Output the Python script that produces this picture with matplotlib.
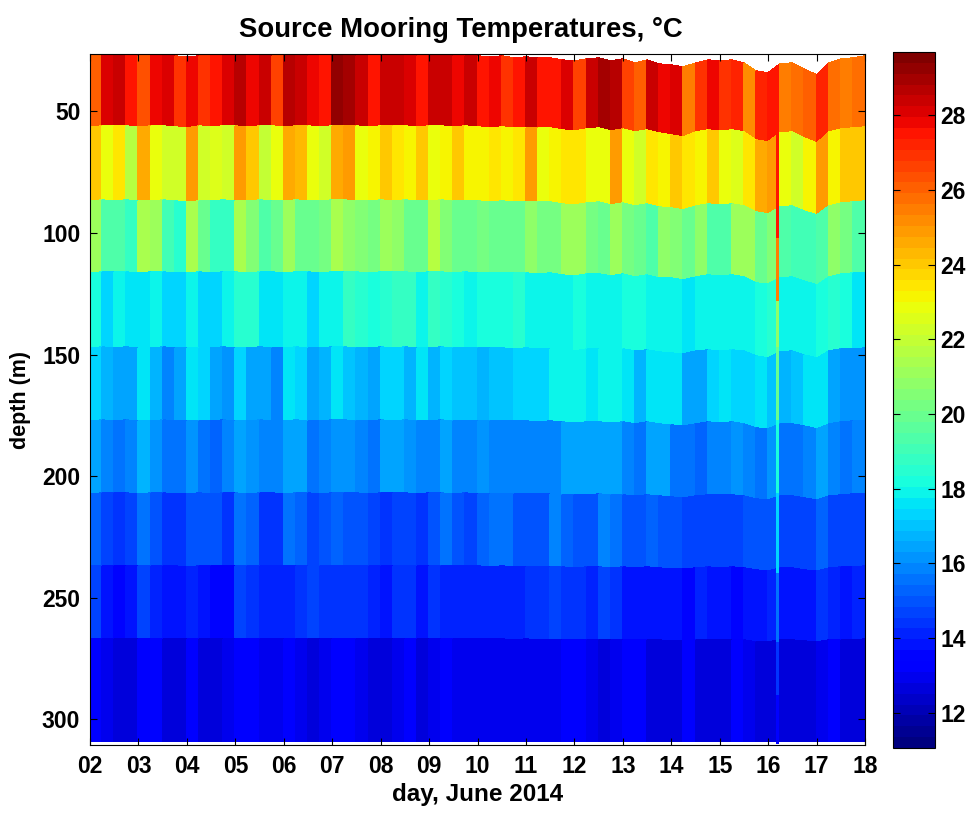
import numpy as np
import matplotlib
matplotlib.use("Agg")
import matplotlib.pyplot as plt

plt.rcParams['font.family'] = ['Liberation Sans', 'DejaVu Sans']
plt.rcParams['font.weight'] = 'bold'

# time grid: quarter-day columns, 2 - 18 June 2014
t_start = 2.0
t_step = 0.25
n_cols = 64

# nominal sensor cell edges (m)
depth_edges = [27, 56, 86.5, 116, 147, 177, 207, 237, 267, 309]

# mooring knock-down at each time edge (m), read from the wavy top edge
drawdown = [0.5, 0, 0.3, 0, 0.5, 0.3, 0, 0.5, 0.8, 0.3, 0.5, 0, 0.3, 0.5, 0, 0.3,
            0.5, 0, 0.3, 0.5, 0, 0, 0.3, 0.5, 0, 0.3, 0, 0.5, 0.3, 0, 0.5, 0.3,
            0.5, 0.8, 0.5, 1.0, 0.8, 1.2, 1.0, 2.0, 2.5, 1.5, 1.2, 2.5, 1.5, 3.0, 2.0, 3.5,
            4.0, 5.0, 3.0, 2.0, 2.5, 2.0, 3.0, 6.5, 7.5, 3.5, 3.0, 5.5, 8.0, 3.0, 1.5, 1.0,
            0.5]

# temperatures (deg C) per sensor, one value per quarter day
temp_s1 = [26.0, 28.0, 28.5, 27.5, 26.3, 27.8, 28.2, 26.8, 27.8, 26.8, 27.5, 28.0, 28.6, 27.8, 28.5, 26.5,
           28.7, 28.5, 27.8, 27.5, 29.2, 29.0, 28.5, 27.5, 28.5, 28.5, 28.2, 27.6, 28.5, 28.5, 27.8, 28.3,
           27.5, 27.8, 27.0, 27.5, 28.3, 27.5, 27.6, 28.2, 26.5, 28.3, 29.0, 28.8, 26.5, 26.0, 28.3, 27.8,
           28.0, 25.5, 26.8, 27.8, 27.0, 27.3, 25.3, 27.3, 27.5, 25.5, 25.8, 26.0, 27.3, 25.8, 25.5, 25.8]
temp_s2 = [24.0, 22.8, 23.5, 21.8, 24.5, 22.8, 22.4, 22.2, 25.0, 22.2, 22.6, 22.4, 24.8, 24.0, 22.0, 22.8,
           24.5, 24.2, 22.8, 22.2, 24.5, 25.0, 22.8, 23.0, 24.0, 23.5, 23.0, 24.0, 22.8, 23.0, 24.0, 23.0,
           23.0, 23.5, 23.2, 23.3, 24.8, 22.9, 23.0, 23.5, 23.5, 22.8, 22.8, 25.0, 22.8, 22.4, 23.5, 23.0,
           24.0, 23.3, 23.0, 24.0, 22.8, 22.6, 23.5, 24.5, 25.0, 22.8, 22.4, 23.0, 24.8, 23.0, 24.0, 24.0]
temp_s3 = [21.0, 19.5, 19.3, 18.8, 21.5, 21.0, 19.0, 18.5, 21.5, 19.8, 18.8, 18.8, 21.5, 20.5, 19.5, 19.8,
           21.0, 20.0, 20.0, 20.2, 21.3, 20.8, 20.5, 20.3, 21.0, 20.8, 20.0, 19.8, 21.8, 20.5, 20.0, 20.0,
           20.2, 19.8, 19.8, 20.0, 20.8, 20.2, 20.3, 21.0, 21.0, 20.2, 20.0, 21.0, 20.3, 20.0, 19.3, 20.8,
           20.5, 19.8, 20.8, 19.5, 19.3, 21.0, 21.0, 19.8, 20.5, 19.5, 19.0, 19.0, 19.5, 20.8, 20.3, 19.3]
temp_s4 = [18.2, 17.3, 17.8, 17.5, 17.6, 18.0, 17.2, 17.3, 18.0, 17.2, 17.3, 18.0, 18.5, 18.5, 17.5, 17.5,
           18.0, 18.0, 17.3, 18.0, 18.0, 18.7, 18.5, 18.3, 18.4, 18.7, 18.7, 18.0, 18.8, 18.5, 18.2, 18.0,
           18.3, 18.3, 18.3, 18.5, 18.0, 18.0, 18.0, 18.0, 18.2, 18.0, 18.0, 17.8, 18.3, 18.3, 17.8, 17.8,
           17.8, 17.5, 17.8, 18.0, 18.0, 18.0, 17.8, 18.2, 18.5, 18.0, 18.0, 17.8, 18.3, 18.5, 18.3, 17.5]
temp_s5 = [17.3, 16.8, 16.5, 16.5, 17.5, 16.6, 16.0, 16.3, 17.5, 17.3, 16.3, 16.2, 17.3, 16.5, 16.5, 16.0,
           17.5, 17.3, 16.5, 16.8, 17.5, 17.0, 16.8, 16.5, 17.3, 17.3, 16.6, 17.5, 16.6, 17.3, 17.0, 17.0,
           16.6, 17.0, 17.0, 17.3, 17.3, 17.3, 17.8, 17.8, 17.8, 17.5, 17.8, 17.8, 17.5, 16.8, 17.5, 17.5,
           17.5, 16.5, 16.3, 17.3, 17.5, 17.2, 17.3, 17.5, 17.0, 16.6, 17.0, 17.5, 17.6, 16.3, 16.2, 16.2]
temp_s6 = [16.3, 16.0, 15.6, 15.8, 16.6, 16.2, 15.6, 15.5, 16.2, 15.5, 15.3, 15.8, 16.3, 16.2, 15.8, 15.8,
           16.3, 16.3, 15.6, 16.0, 16.2, 16.2, 16.0, 15.5, 16.3, 16.3, 16.2, 15.8, 16.0, 16.3, 16.0, 15.8,
           16.2, 16.0, 16.0, 16.0, 16.0, 16.0, 15.8, 16.3, 16.3, 16.3, 16.3, 16.3, 16.0, 15.5, 16.3, 16.3,
           15.5, 15.5, 15.4, 15.8, 15.8, 16.2, 15.8, 15.6, 16.2, 15.5, 15.5, 15.8, 16.3, 15.8, 15.6, 15.8]
temp_s7 = [15.3, 14.6, 14.3, 14.6, 15.6, 15.0, 14.4, 14.5, 14.9, 15.0, 15.0, 14.3, 15.5, 15.2, 14.3, 14.5,
           15.5, 15.3, 14.8, 15.0, 15.3, 15.0, 15.0, 14.6, 14.3, 14.6, 14.6, 14.3, 15.0, 15.5, 14.9, 14.8,
           15.3, 15.5, 15.5, 15.0, 15.0, 15.0, 16.0, 15.3, 15.0, 15.0, 15.8, 15.5, 15.0, 15.0, 15.2, 15.0,
           15.0, 14.8, 14.6, 14.8, 14.7, 14.8, 15.0, 15.0, 15.0, 14.6, 14.6, 14.8, 15.3, 14.8, 14.7, 14.8]
temp_s8 = [14.6, 13.7, 13.6, 13.9, 14.7, 14.2, 13.7, 13.8, 14.2, 13.7, 13.6, 13.6, 14.7, 14.3, 14.1, 14.2,
           14.2, 14.3, 14.7, 14.3, 14.3, 14.3, 14.3, 14.0, 13.7, 14.4, 14.3, 13.7, 14.5, 14.2, 14.2, 14.2,
           14.2, 14.2, 14.2, 14.2, 14.3, 14.5, 14.8, 14.3, 14.3, 14.2, 14.8, 14.3, 13.8, 13.8, 13.8, 13.8,
           13.8, 13.6, 14.0, 13.7, 13.8, 13.6, 13.7, 13.8, 14.0, 13.8, 13.7, 13.8, 14.3, 14.0, 13.9, 14.0]
temp_s9 = [13.2, 13.0, 12.8, 12.7, 13.1, 13.5, 12.7, 12.8, 13.1, 12.8, 12.7, 12.9, 13.3, 13.2, 12.9, 13.0,
           13.2, 13.0, 12.7, 12.9, 13.1, 13.2, 12.9, 12.8, 12.7, 12.9, 13.1, 12.7, 12.9, 13.3, 13.0, 13.0,
           13.0, 12.9, 12.9, 13.0, 12.9, 12.9, 13.0, 13.2, 13.3, 13.0, 12.8, 12.9, 13.2, 13.2, 12.8, 12.6,
           12.8, 13.2, 12.8, 12.6, 12.7, 13.2, 12.9, 12.7, 12.6, 12.8, 12.7, 12.6, 12.9, 13.3, 12.8, 12.7]

# short knock-down event near day 16.2
spike_time = [16.17, 16.23]
spike_depths = [45, 102, 128, 147, 177, 207, 240, 268, 290, 310]
spike_temps = [27.5, 25.5, 20.8, 19.8, 18.3, 17.2, 15.5, 14.3, 13.3]

clim = (11.06, 29.69)
cbar_ticks = [12, 14, 16, 18, 20, 22, 24, 26, 28]
day_ticks = list(range(2, 19))
depth_ticks = [50, 100, 150, 200, 250, 300]

temps = np.array([temp_s1, temp_s2, temp_s3, temp_s4, temp_s5,
                  temp_s6, temp_s7, temp_s8, temp_s9])

t_edges = t_start + t_step * np.arange(n_cols + 1)
z_nom = np.array(depth_edges, dtype=float)
# deeper sensors move less than the top one
weight = (z_nom[-1] - z_nom) / (z_nom[-1] - z_nom[0])
X, _ = np.meshgrid(t_edges, z_nom)
Y = z_nom[:, None] + weight[:, None] * np.array(drawdown)[None, :]

cmap = plt.get_cmap('jet', 64)

fig = plt.figure(figsize=(9.7, 8.16), dpi=100)
ax = fig.add_axes([0.0928, 0.087, 0.799, 0.8468])

mesh = ax.pcolormesh(X, Y, temps, cmap=cmap, vmin=clim[0], vmax=clim[1],
                     shading='flat', edgecolors='face', linewidth=0.3)
sx, sz = np.meshgrid(spike_time, spike_depths)
ax.pcolormesh(sx, sz, np.array(spike_temps)[:, None], cmap=cmap,
              vmin=clim[0], vmax=clim[1], shading='flat', zorder=2)

ax.set_xlim(2, 18)
ax.set_ylim(310.5, 26.5)
ax.set_xticks(day_ticks)
ax.set_xticklabels(['%02d' % d for d in day_ticks])
ax.set_yticks(depth_ticks)
ax.tick_params(direction='in', length=5, width=0.8, top=True, right=True,
               labelsize=16.5, pad=7)
for s in ax.spines.values():
    s.set_linewidth(0.8)

ax.set_title('Source Mooring Temperatures, \u00b0C', fontsize=19.8,
             fontweight='bold', pad=12, x=0.478)
ax.set_xlabel('day, June 2014', fontsize=17.5, fontweight='bold', labelpad=4)
ax.set_ylabel('depth (m)', fontsize=15.5, fontweight='bold', labelpad=8)

cax = fig.add_axes([0.9206, 0.0833, 0.0433, 0.853])
cb = fig.colorbar(mesh, cax=cax, ticks=cbar_ticks)
cb.outline.set_linewidth(0.8)
cax.tick_params(direction='in', length=5, width=0.8, left=True, right=True,
                labelsize=16.5, pad=4)

fig.savefig('out.png', dpi=100)
